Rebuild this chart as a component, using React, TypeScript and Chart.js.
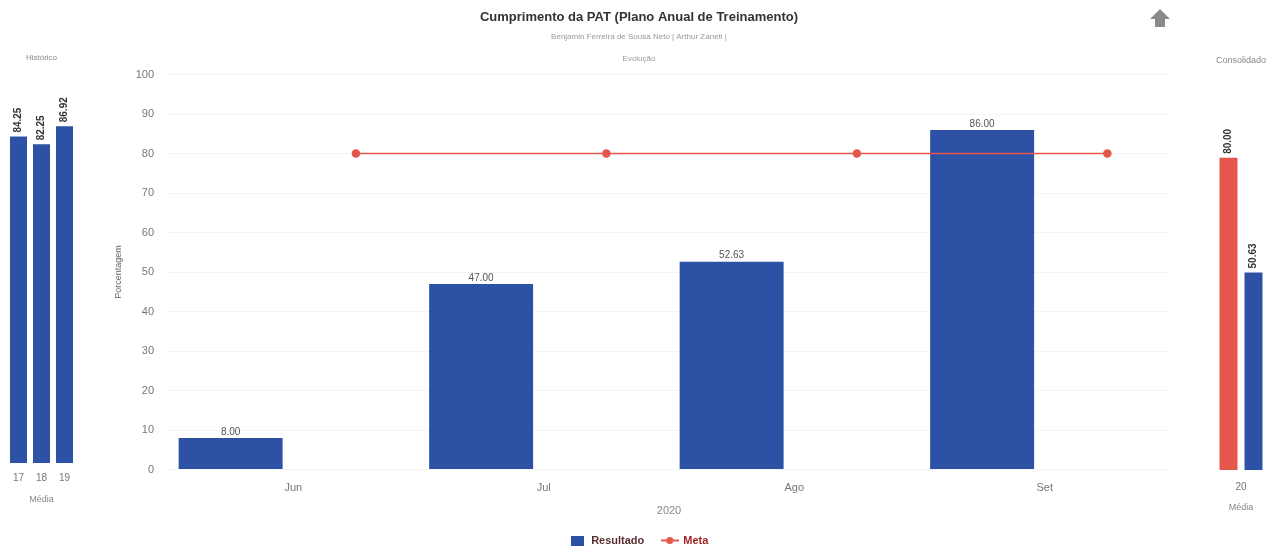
import React, { useEffect, useRef } from 'react';
import { Chart, registerables } from 'chart.js';

Chart.register(...registerables);

const months = ['Jun', 'Jul', 'Ago', 'Set'];
const resultado = [8, 47, 52.63, 86];
const meta = [80, 80, 80, 80];
const historicoYears = ['17', '18', '19'];
const historicoMedia = [84.25, 82.25, 86.92];
const consolidadoYears = ['20'];
const consolidadoMeta = [80];
const consolidadoResultado = [50.63];

const chartTitle = 'Cumprimento da PAT (Plano Anual de Treinamento)';
const chartSubtitle = 'Benjamin Ferreira de Sousa Neto | Arthur Zaneti |';

const BLUE = '#2c51a5';
const RED = '#e5564c';
const FONT = "'Liberation Sans', Arial, sans-serif";

Chart.defaults.font.family = FONT;

const barLabelPlugin = {
  id: 'barLabels',
  afterDatasetsDraw(chart: any) {
    const ctx = chart.ctx;
    const m = chart.getDatasetMeta(0);
    const ds = chart.data.datasets[0];
    ctx.save();
    ctx.font = `10px ${FONT}`;
    ctx.fillStyle = '#555';
    ctx.textAlign = 'center';
    ctx.textBaseline = 'bottom';
    m.data.forEach((el: any, i: number) => {
      const v = ds.data[i];
      const val = typeof v === 'object' ? v.y : v;
      ctx.fillText(val.toFixed(2), el.x, el.y - 1);
    });
    ctx.restore();
  },
};

const rotLabelPlugin = {
  id: 'rotLabels',
  afterDatasetsDraw(chart: any) {
    const ctx = chart.ctx;
    ctx.save();
    ctx.font = `bold 10px ${FONT}`;
    ctx.fillStyle = '#333';
    ctx.textAlign = 'left';
    ctx.textBaseline = 'middle';
    chart.data.datasets.forEach((ds: any, di: number) => {
      const m = chart.getDatasetMeta(di);
      m.data.forEach((el: any, i: number) => {
        ctx.save();
        ctx.translate(el.x, el.y - 4);
        ctx.rotate(-Math.PI / 2);
        ctx.fillText(Number(ds.data[i]).toFixed(2), 0, 0);
        ctx.restore();
      });
    });
    ctx.restore();
  },
};

const arrowPlugin = {
  id: 'arrowIcon',
  afterDraw(chart: any) {
    const ctx = chart.ctx;
    ctx.save();
    ctx.fillStyle = '#8a8a8a';
    ctx.beginPath();
    ctx.moveTo(1160, 9);
    ctx.lineTo(1170, 19);
    ctx.lineTo(1165, 19);
    ctx.lineTo(1165, 27);
    ctx.lineTo(1155, 27);
    ctx.lineTo(1155, 19);
    ctx.lineTo(1150, 19);
    ctx.closePath();
    ctx.fill();
    ctx.restore();
  },
};

function makeBoxIcon() {
  const c = document.createElement('canvas');
  c.width = 13;
  c.height = 10;
  const x = c.getContext('2d')!;
  x.fillStyle = BLUE;
  x.fillRect(0, 0, 13, 10);
  return c;
}

function makeLineIcon() {
  const c = document.createElement('canvas');
  c.width = 18;
  c.height = 9;
  const x = c.getContext('2d')!;
  x.strokeStyle = RED;
  x.lineWidth = 2;
  x.beginPath();
  x.moveTo(0, 4.5);
  x.lineTo(18, 4.5);
  x.stroke();
  x.fillStyle = RED;
  x.beginPath();
  x.arc(9, 4.5, 3.5, 0, Math.PI * 2);
  x.fill();
  return c;
}

export default function App() {
  const mainRef = useRef<HTMLCanvasElement>(null);
  const leftRef = useRef<HTMLCanvasElement>(null);
  const rightRef = useRef<HTMLCanvasElement>(null);

  useEffect(() => {
    const boxIcon = makeBoxIcon();
    const lineIcon = makeLineIcon();

    const main = new Chart(mainRef.current!, {
      type: 'bar',
      data: {
        datasets: [
          {
            type: 'bar',
            label: 'Resultado',
            data: resultado.map((v, i) => ({ x: i - 0.25, y: v })),
            backgroundColor: BLUE,
            barPercentage: 0.415,
            categoryPercentage: 1,
            order: 2,
          } as any,
          {
            type: 'line',
            label: 'Meta',
            data: meta.map((v, i) => ({ x: i + 0.25, y: v })),
            borderColor: RED,
            backgroundColor: RED,
            borderWidth: 1.5,
            pointRadius: 3.5,
            order: 1,
          } as any,
        ],
      },
      options: {
        animation: false,
        responsive: false,
        layout: { padding: { left: 108, right: 114, top: 0, bottom: -8 } },
        plugins: {
          tooltip: { enabled: false },
          title: {
            display: true,
            text: chartTitle,
            color: '#333',
            font: { size: 13, weight: 'bold', lineHeight: 1.2 },
            padding: { top: 10, bottom: 0 },
          },
          subtitle: {
            display: true,
            text: [chartSubtitle, '', 'Evolução'],
            color: '#999',
            font: { size: 8, lineHeight: 1.375 },
            padding: { top: 6, bottom: 10 },
          },
          legend: {
            position: 'bottom',
            labels: {
              usePointStyle: true,
              pointStyleWidth: 16,
              padding: 17.5,
              font: { size: 11, weight: 'bold' },
              generateLabels: () => [
                {
                  text: 'Resultado',
                  pointStyle: boxIcon,
                  fontColor: '#5a2d2d',
                  fillStyle: BLUE,
                  strokeStyle: BLUE,
                  lineWidth: 0,
                  hidden: false,
                  datasetIndex: 0,
                } as any,
                {
                  text: 'Meta',
                  pointStyle: lineIcon,
                  fontColor: '#a02424',
                  fillStyle: RED,
                  strokeStyle: RED,
                  lineWidth: 0,
                  hidden: false,
                  datasetIndex: 1,
                } as any,
              ],
            },
          },
        },
        scales: {
          x: {
            type: 'linear',
            offset: false,
            min: -0.5,
            max: 3.5,
            afterBuildTicks: (axis: any) => {
              axis.ticks = months.map((_, i) => ({ value: i }));
            },
            ticks: {
              callback: (v: any) => months[v] ?? '',
              color: '#777',
              font: { size: 11 },
              padding: 12,
              maxRotation: 0,
            },
            grid: { display: false, drawTicks: false, offset: false },
            border: { display: false },
            title: {
              display: true,
              text: '2020',
              color: '#888',
              font: { size: 11 },
              padding: { top: 0, bottom: 0 },
            },
            afterFit: (axis: any) => {
              axis.height = 48;
            },
          },
          y: {
            min: 0,
            max: 100,
            ticks: { stepSize: 10, color: '#777', font: { size: 11 }, padding: 14 },
            grid: { color: 'rgba(0,0,0,0.04)', drawTicks: false },
            border: { display: false },
            title: {
              display: true,
              text: 'Porcentagem',
              color: '#666',
              font: { size: 9 },
              padding: 5,
            },
            afterFit: (axis: any) => {
              axis.width = 60;
            },
          },
        },
      } as any,
      plugins: [barLabelPlugin, arrowPlugin],
    });

    const left = new Chart(leftRef.current!, {
      type: 'bar',
      data: {
        labels: historicoYears,
        datasets: [
          {
            label: 'Média',
            data: historicoMedia,
            backgroundColor: BLUE,
            barPercentage: 0.74,
            categoryPercentage: 1,
          },
        ],
      },
      options: {
        animation: false,
        responsive: false,
        layout: { padding: { left: 7, right: 24, top: 0, bottom: 42.6 } },
        plugins: {
          tooltip: { enabled: false },
          legend: { display: false },
          title: {
            display: true,
            text: 'Histórico',
            color: '#888',
            font: { size: 8, weight: 'normal' },
            padding: { top: 53, bottom: 13 },
          },
        },
        scales: {
          x: {
            grid: { display: false, drawTicks: false },
            border: { display: false },
            ticks: { color: '#777', font: { size: 10 }, padding: 9, maxRotation: 0 },
            title: {
              display: true,
              text: 'Média',
              color: '#888',
              font: { size: 9 },
              padding: { top: 0, bottom: 0 },
            },
            afterFit: (axis: any) => {
              axis.height = 42.4;
            },
          },
          y: { display: false, min: 0, max: 100 },
        },
      } as any,
      plugins: [rotLabelPlugin],
    });

    const right = new Chart(rightRef.current!, {
      type: 'bar',
      data: {
        labels: consolidadoYears,
        datasets: [
          {
            label: 'Meta',
            data: consolidadoMeta,
            backgroundColor: RED,
            barPercentage: 0.72,
            categoryPercentage: 0.806,
          },
          {
            label: 'Resultado',
            data: consolidadoResultado,
            backgroundColor: BLUE,
            barPercentage: 0.72,
            categoryPercentage: 0.806,
          },
        ],
      },
      options: {
        animation: false,
        responsive: false,
        layout: { padding: { left: 20, right: 12, top: 0, bottom: 34.6 } },
        plugins: {
          tooltip: { enabled: false },
          legend: { display: false },
          title: {
            display: true,
            text: 'Consolidado',
            color: '#888',
            font: { size: 9, weight: 'normal' },
            padding: { top: 55, bottom: 14 },
          },
        },
        scales: {
          x: {
            grid: { display: false, drawTicks: false },
            border: { display: false },
            ticks: { color: '#777', font: { size: 10 }, padding: 11, maxRotation: 0 },
            title: {
              display: true,
              text: 'Média',
              color: '#888',
              font: { size: 9 },
              padding: { top: 0, bottom: 0 },
            },
            afterFit: (axis: any) => {
              axis.height = 43.4;
            },
          },
          y: { display: false, min: 0, max: 100 },
        },
      } as any,
      plugins: [rotLabelPlugin],
    });

    return () => {
      main.destroy();
      left.destroy();
      right.destroy();
    };
  }, []);

  return (
    <div
      style={{
        position: 'fixed',
        left: 0,
        top: 0,
        width: 1284,
        height: 548,
        background: '#fff',
        overflow: 'hidden',
      }}
    >
      <canvas
        ref={mainRef}
        width={1284}
        height={548}
        style={{ position: 'absolute', left: 0, top: 0, width: 1284, height: 548 }}
      />
      <canvas
        ref={leftRef}
        width={100}
        height={548}
        style={{ position: 'absolute', left: 0, top: 0, width: 100, height: 548 }}
      />
      <canvas
        ref={rightRef}
        width={94}
        height={548}
        style={{ position: 'absolute', left: 1190, top: 0, width: 94, height: 548 }}
      />
    </div>
  );
}
